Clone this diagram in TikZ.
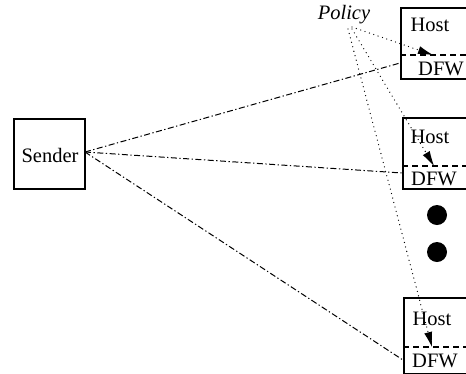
\documentclass[tikz,border=0pt]{standalone}
\usepackage{fontspec}
\setmainfont{Liberation Serif}
\usetikzlibrary{arrows.meta}
\begin{document}
\begin{tikzpicture}[x=1pt,y=-1pt,
  every node/.style={font=\fontsize{20.5}{24}\selectfont},
  box/.style={draw,line width=1.5pt,inner sep=0pt,anchor=north west},
  hostbox/.style={box,minimum width=100pt,minimum height=#1},
  divider/.style={line width=1.1pt,dash pattern=on 6pt off 4pt},
  flow/.style={line width=1pt,dash pattern=on 6pt off 2.5pt on 1.3pt off 2.5pt},
  rule/.style={line width=1.3pt,line cap=round,dash pattern=on 0pt off 4.6pt,
    -{Latex[length=15pt,width=8pt,line width=0pt]}},
  word/.style={inner sep=0pt}]
  \clip (0,0) rectangle (466,373);

  % sender
  \node[box,minimum width=71pt,minimum height=70pt] (sender) at (13,118) {};
  \node[word] (sendertxt) at (50,155) {Sender};
  \coordinate (src) at (85,152);

  % host boxes with their firewall part
  \node[hostbox=71pt] (h1) at (400,7) {};
  \node[hostbox=71pt] (h2) at (402,117) {};
  \node[hostbox=76pt] (h3) at (403,297) {};
  \draw[divider] (400,55) -- (470,55);
  \draw[divider] (402,166) -- (470,166);
  \draw[divider] (403,347) -- (470,347);

  \node[word] (host1) at (430,25) {Host};
  \node[word] (dfw1) at (441,69) {DFW};
  \node[word] (host2) at (430,137) {Host};
  \node[word] (dfw2) at (434,179) {DFW};
  \node[word] (host3) at (432,319) {Host};
  \node[word] (dfw3) at (435,361) {DFW};

  % further hosts
  \fill (437,215) circle (10pt);
  \fill (437,252) circle (10pt);

  % traffic from the sender to each firewall
  \coordinate (in1) at (400,63);
  \coordinate (in2) at (402,173);
  \coordinate (in3) at (403,360);
  \draw[flow] (src) -- (in1);
  \draw[flow] (src) -- (in2);
  \draw[flow] (src) -- (in3);

  % policy pushed to each firewall
  \node[word,font=\fontsize{20.5}{24}\selectfont\itshape] (policy) at (344,15) {Policy};
  \coordinate (p1) at (352,27);
  \coordinate (p2) at (352,29);
  \coordinate (p3) at (348,29);
  \coordinate (t1) at (433,55);
  \coordinate (t2) at (434,166);
  \coordinate (t3) at (432,347);
  \draw[rule] (p1) -- (t1);
  \draw[rule] (p2) -- (t2);
  \draw[rule] (p3) -- (t3);
\end{tikzpicture}
\end{document}
